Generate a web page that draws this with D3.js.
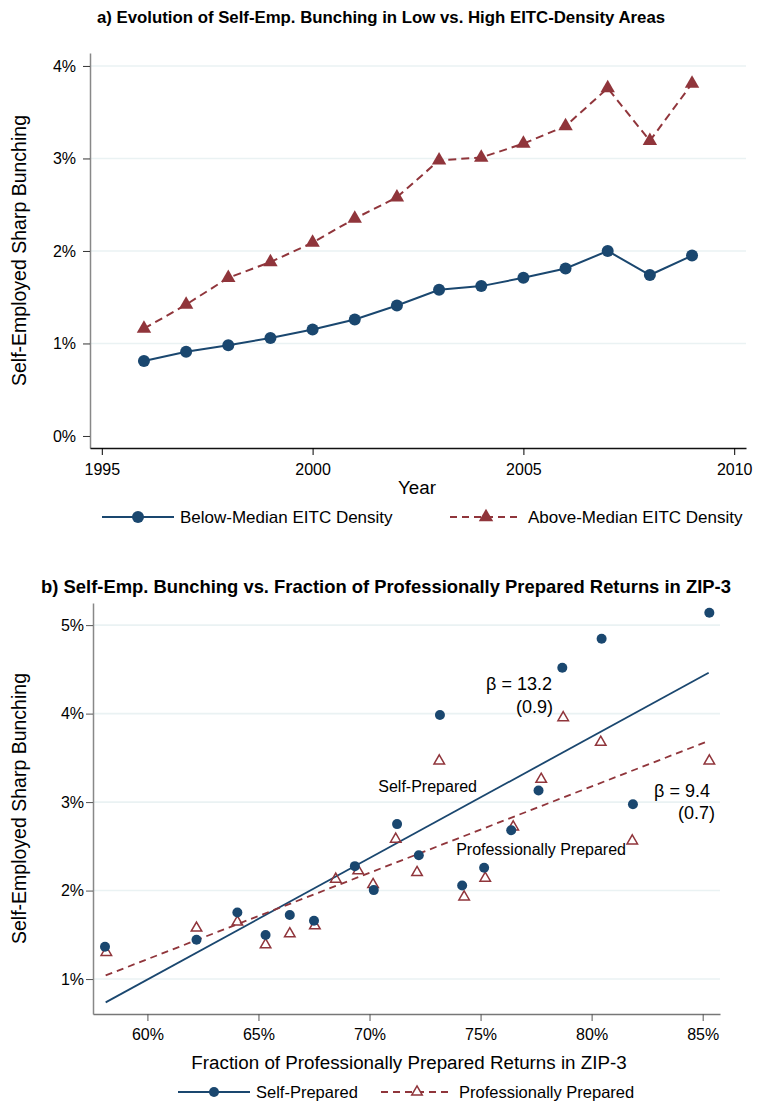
<!DOCTYPE html>
<html>
<head>
<meta charset="utf-8">
<script src="https://cdn.jsdelivr.net/npm/d3@7"></script>
<style>
    body { margin: 0; background: #fff; }
    svg { display: block; font-family: "Liberation Sans", Arial, sans-serif; }
    .title { font-weight: bold; fill: #000; }
    .tick text { font-size: 16px; fill: #000; font-family: "Liberation Sans", Arial, sans-serif; }
    .axis-label { font-size: 18.8px; fill: #000; }
    .y-label { font-size: 19.5px; fill: #000; }
    .legend-text { fill: #000; }
    .grid line { stroke: #eaf2f3; stroke-width: 1.6; }
    .note { fill: #000; }
</style>
</head>
<body>
<svg id="chart" width="761" height="1101"></svg>
<script>
// ===================================================================
// DATA
// ===================================================================
// panel a: bunching by year (percent)
const years = [1996, 1997, 1998, 1999, 2000, 2001, 2002, 2003, 2004, 2005, 2006, 2007, 2008, 2009];
const belowMedian = [0.81, 0.91, 0.98, 1.06, 1.15, 1.26, 1.41, 1.58, 1.62, 1.71, 1.81, 2.00, 1.74, 1.95];
const aboveMedian = [1.16, 1.42, 1.71, 1.88, 2.09, 2.35, 2.58, 2.98, 3.01, 3.16, 3.35, 3.76, 3.19, 3.81];
const yearTicks = [1995, 2000, 2005, 2010];
const pctTicksA = [0, 1, 2, 3, 4];
const seriesNamesA = ['Below-Median EITC Density', 'Above-Median EITC Density'];

// panel b: binned scatter, x = % professionally prepared, y = bunching (percent)
const selfX = [58.09, 62.21, 64.05, 65.32, 66.41, 67.50, 69.34, 70.19, 71.24, 72.22, 73.17, 74.17, 75.16, 76.38, 77.61, 78.68, 80.45, 81.86, 85.30];
const selfY = [1.365, 1.444, 1.752, 1.497, 1.723, 1.658, 2.276, 2.005, 2.751, 2.400, 3.984, 2.057, 2.257, 2.682, 3.130, 4.518, 4.846, 2.976, 5.139];
const profX = [58.15, 62.21, 64.05, 65.32, 66.41, 67.54, 68.48, 69.49, 70.16, 71.18, 72.14, 73.14, 74.26, 75.21, 76.47, 77.73, 78.72, 80.41, 81.83, 85.30];
const profY = [1.301, 1.576, 1.644, 1.388, 1.512, 1.602, 2.129, 2.223, 2.068, 2.581, 2.204, 3.465, 1.929, 2.141, 2.720, 3.258, 3.954, 3.676, 2.562, 3.465];
// fitted lines (endpoints)
const fitX = [58.12, 85.27];
const selfFit = [0.736, 4.462];
const profFit = [1.041, 3.691];
const shareTicks = [60, 65, 70, 75, 80, 85];
const pctTicksB = [1, 2, 3, 4, 5];
const seriesNamesB = ['Self-Prepared', 'Professionally Prepared'];

const blue = '#1a476f';
const red = '#90353b';

const svg = d3.select('#chart');

function addYTitle(y0, y1, text) {
    svg.append('text')
        .attr('class', 'y-label')
        .attr('transform', `translate(26,${(y0 + y1) / 2}) rotate(-90)`)
        .attr('text-anchor', 'middle')
        .text(text);
}

function legendItem(x, y, color, dashed, marker, label, fontSize) {
    svg.append('line')
        .attr('x1', x).attr('x2', x + 72)
        .attr('y1', y).attr('y2', y)
        .attr('stroke', color)
        .attr('stroke-width', 2)
        .attr('stroke-dasharray', dashed ? '7,5' : null);
    marker(svg.append('g').attr('transform', `translate(${x + 36},${y})`));
    svg.append('text')
        .attr('class', 'legend-text')
        .attr('x', x + 78)
        .attr('y', y)
        .attr('dy', '0.35em')
        .style('font-size', fontSize + 'px')
        .text(label);
}

const triangle = d3.symbol().type(d3.symbolTriangle);

// ===================================================================
// PANEL A
// ===================================================================
{
    const xScale = d3.scaleLinear().domain([1994.72, 2010.28]).range([90, 746]);
    const yScale = d3.scaleLinear().domain([-0.13, 4.14]).range([448, 53]);

    svg.append('text')
        .attr('class', 'title')
        .attr('x', 381).attr('y', 17)
        .attr('dy', '0.35em')
        .attr('text-anchor', 'middle')
        .style('font-size', '16.8px')
        .text('a) Evolution of Self-Emp. Bunching in Low vs. High EITC-Density Areas');

    // Grid
    svg.append('g')
        .attr('class', 'grid')
        .selectAll('line')
        .data(pctTicksA.filter(d => d > 0))
        .join('line')
        .attr('x1', 91).attr('x2', 746)
        .attr('y1', d => yScale(d)).attr('y2', d => yScale(d));

    // Axes
    const yAxis = svg.append('g')
        .attr('transform', 'translate(90,0)')
        .call(d3.axisLeft(yScale).tickValues(pctTicksA).tickSize(7).tickSizeOuter(0).tickPadding(7)
            .tickFormat(d => d + '%'));
    yAxis.select('.domain').attr('stroke', '#888').attr('stroke-width', 1.5);
    yAxis.selectAll('.tick line').attr('stroke', '#333');

    const xAxis = svg.append('g')
        .attr('transform', 'translate(0,448)')
        .call(d3.axisBottom(xScale).tickValues(yearTicks).tickSize(7).tickSizeOuter(0).tickPadding(9)
            .tickFormat(d3.format('d')));
    xAxis.select('.domain').attr('stroke', '#111').attr('stroke-width', 1.5);

    svg.append('text')
        .attr('class', 'axis-label')
        .attr('x', 417).attr('y', 487)
        .attr('dy', '0.35em')
        .attr('text-anchor', 'middle')
        .text('Year');
    addYTitle(53, 448, 'Self-Employed Sharp Bunching');

    const line = d3.line()
        .x((d, i) => xScale(years[i]))
        .y(d => yScale(d));

    // Below-median
    svg.append('path')
        .datum(belowMedian)
        .attr('d', line)
        .attr('fill', 'none')
        .attr('stroke', blue)
        .attr('stroke-width', 2);
    svg.append('g').selectAll('circle')
        .data(belowMedian)
        .join('circle')
        .attr('cx', (d, i) => xScale(years[i]))
        .attr('cy', d => yScale(d))
        .attr('r', 6)
        .attr('fill', blue);

    // Above-median
    svg.append('path')
        .datum(aboveMedian)
        .attr('d', line)
        .attr('fill', 'none')
        .attr('stroke', red)
        .attr('stroke-width', 2)
        .attr('stroke-dasharray', '8,5');
    svg.append('g').selectAll('path')
        .data(aboveMedian)
        .join('path')
        .attr('d', triangle.size(90))
        .attr('transform', (d, i) => `translate(${xScale(years[i])},${yScale(d)})`)
        .attr('fill', red);

    // Legend
    legendItem(102, 517, blue, false,
        g => g.append('circle').attr('r', 6).attr('fill', blue), seriesNamesA[0], 17);
    legendItem(450, 517, red, true,
        g => g.append('path').attr('d', triangle.size(90)).attr('fill', red), seriesNamesA[1], 17);
}

// ===================================================================
// PANEL B
// ===================================================================
{
    const xScale = d3.scaleLinear().domain([57.55, 85.78]).range([93, 720]);
    const yScale = d3.scaleLinear().domain([0.605, 5.25]).range([1014, 603]);

    svg.append('text')
        .attr('class', 'title')
        .attr('x', 386).attr('y', 587)
        .attr('dy', '0.35em')
        .attr('text-anchor', 'middle')
        .style('font-size', '18.4px')
        .text('b) Self-Emp. Bunching vs. Fraction of Professionally Prepared Returns in ZIP-3');

    svg.append('g')
        .attr('class', 'grid')
        .selectAll('line')
        .data(pctTicksB)
        .join('line')
        .attr('x1', 94).attr('x2', 720)
        .attr('y1', d => yScale(d)).attr('y2', d => yScale(d));

    const yAxis = svg.append('g')
        .attr('transform', 'translate(93,0)')
        .call(d3.axisLeft(yScale).tickValues(pctTicksB).tickSize(7).tickSizeOuter(0).tickPadding(2)
            .tickFormat(d => d + '%'));
    yAxis.select('.domain').attr('stroke', '#888').attr('stroke-width', 1.5);
    yAxis.selectAll('.tick line').attr('stroke', '#555');

    const xAxis = svg.append('g')
        .attr('transform', 'translate(0,1014)')
        .call(d3.axisBottom(xScale).tickValues(shareTicks).tickSize(7).tickSizeOuter(0).tickPadding(8)
            .tickFormat(d => d + '%'));
    xAxis.select('.domain').attr('stroke', '#777').attr('stroke-width', 1.5);
    xAxis.selectAll('.tick line').attr('stroke', '#555');

    svg.append('text')
        .attr('class', 'axis-label')
        .attr('x', 409).attr('y', 1062)
        .attr('dy', '0.35em')
        .attr('text-anchor', 'middle')
        .text('Fraction of Professionally Prepared Returns in ZIP-3');
    addYTitle(603, 1014, 'Self-Employed Sharp Bunching');

    // Fit lines
    const fitLine = d3.line()
        .x((d, i) => xScale(fitX[i]))
        .y(d => yScale(d));
    svg.append('path')
        .datum(selfFit)
        .attr('d', fitLine)
        .attr('stroke', blue)
        .attr('stroke-width', 1.8)
        .attr('fill', 'none');
    svg.append('path')
        .datum(profFit)
        .attr('d', fitLine)
        .attr('stroke', red)
        .attr('stroke-width', 1.8)
        .attr('stroke-dasharray', '7,5')
        .attr('fill', 'none');

    // Points
    svg.append('g').selectAll('path')
        .data(profY)
        .join('path')
        .attr('d', triangle.size(48))
        .attr('transform', (d, i) => `translate(${xScale(profX[i])},${yScale(d)})`)
        .attr('fill', 'none')
        .attr('stroke', red)
        .attr('stroke-width', 1.5);
    svg.append('g').selectAll('circle')
        .data(selfY)
        .join('circle')
        .attr('cx', (d, i) => xScale(selfX[i]))
        .attr('cy', d => yScale(d))
        .attr('r', 5)
        .attr('fill', blue);

    // Annotations
    const notes = [
        { x: 552, y: 684, t: 'β = 13.2', s: 18 },
        { x: 553, y: 707, t: '(0.9)', s: 18 },
        { x: 477, y: 786, t: 'Self-Prepared', s: 16 },
        { x: 710, y: 791, t: 'β = 9.4', s: 18 },
        { x: 715, y: 813, t: '(0.7)', s: 18 },
        { x: 626, y: 849, t: 'Professionally Prepared', s: 16 }
    ];
    svg.append('g').selectAll('text')
        .data(notes)
        .join('text')
        .attr('class', 'note')
        .attr('x', d => d.x).attr('y', d => d.y)
        .attr('dy', '0.35em')
        .attr('text-anchor', 'end')
        .style('font-size', d => d.s + 'px')
        .text(d => d.t);

    // Legend
    legendItem(178, 1092, blue, false,
        g => g.append('circle').attr('r', 5).attr('fill', blue), seriesNamesB[0], 16.5);
    legendItem(381, 1092, red, true,
        g => g.append('path').attr('d', triangle.size(48)).attr('fill', '#fff').attr('stroke', red).attr('stroke-width', 1.5), seriesNamesB[1], 16.5);
}
</script>
</body>
</html>
